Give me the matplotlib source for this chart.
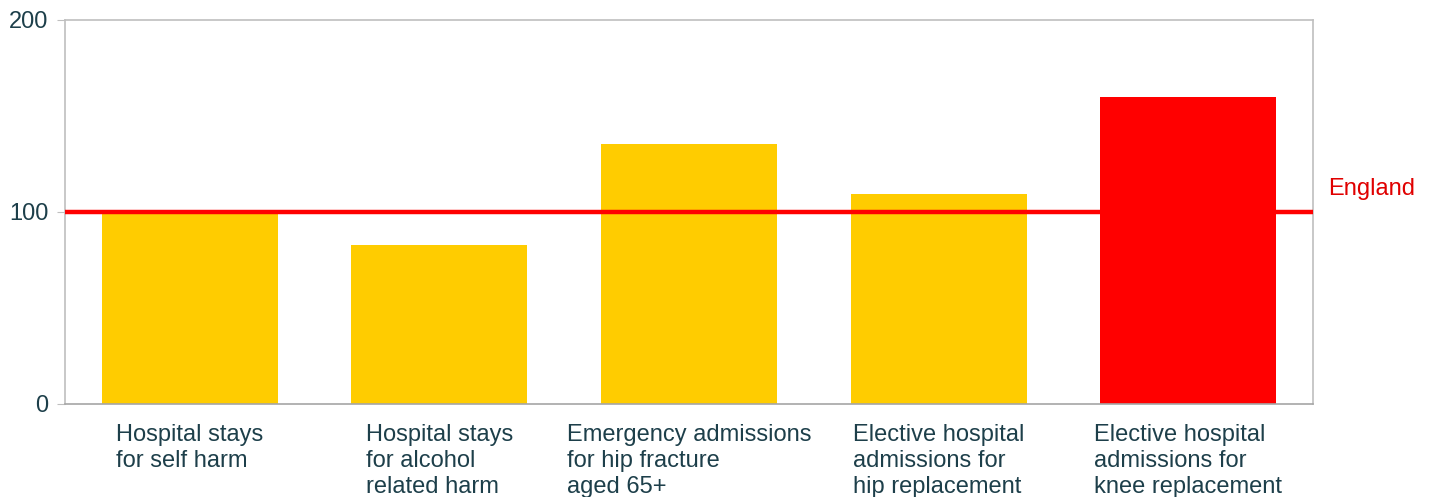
import matplotlib
matplotlib.use("Agg")
import matplotlib.pyplot as plt

# data
categories = [
    "Hospital stays\nfor self harm",
    "Hospital stays\nfor alcohol\nrelated harm",
    "Emergency admissions\nfor hip fracture\naged 65+",
    "Elective hospital\nadmissions for\nhip replacement",
    "Elective hospital\nadmissions for\nknee replacement",
]
values = [99, 83, 135.5, 109.5, 160]
bar_colors = ["#ffcc00", "#ffcc00", "#ffcc00", "#ffcc00", "#ff0000"]
england = 100
yticks = [0, 100, 200]

plt.rcParams["font.family"] = ["Liberation Sans", "DejaVu Sans"]
text_col = "#1d3f4a"
grey = "#bfbfbf"

fig = plt.figure(figsize=(14.3, 4.97), dpi=100)
ax = fig.add_axes([65 / 1430, 1 - 404 / 497, 1248 / 1430, 384 / 497])

x = range(len(categories))
ax.bar(x, values, width=0.705, color=bar_colors, zorder=2)
ax.set_xlim(-0.5, len(categories) - 0.5)
ax.set_ylim(0, 200)

# England reference line
ax.axhline(england, color="#ff0000", lw=3.2, zorder=3, solid_capstyle="round")
ax.text(len(categories) - 0.5 + 0.06, england + 12, "England", color="#e00000",
        fontsize=17, va="center", ha="left")

ax.set_yticks(yticks)
ax.set_yticklabels([str(t) for t in yticks], fontsize=17, color=text_col)
ax.tick_params(axis="y", length=6, color=grey, pad=6)
ax.set_xticks([])

for i, lab in enumerate(categories):
    ax.text(i, -10.5, lab, ha="center", va="top", multialignment="left",
            fontsize=17, color=text_col, linespacing=1.22,
            transform=ax.transData, clip_on=False)

for s in ax.spines.values():
    s.set_color(grey)
    s.set_linewidth(1.2)
ax.spines["bottom"].set_color("#a6a6a6")

fig.savefig("out.png", dpi=100)
